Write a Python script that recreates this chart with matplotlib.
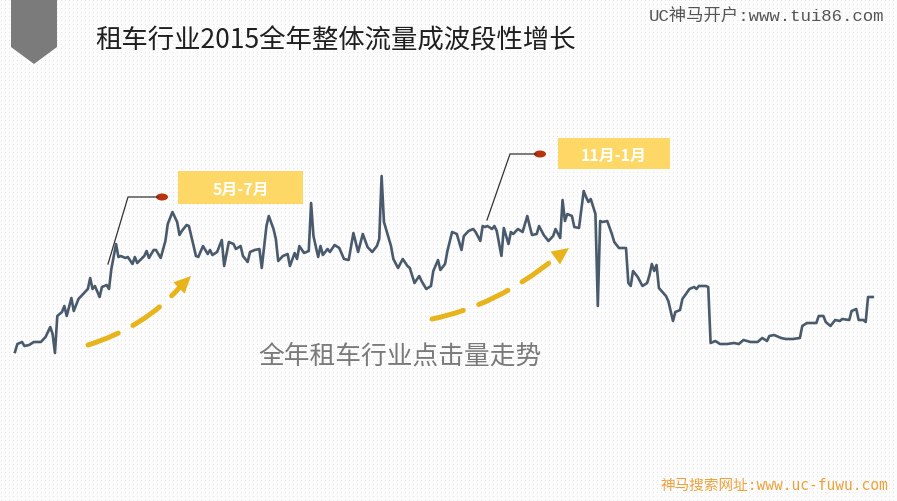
import numpy as np
import matplotlib
matplotlib.use("Agg")
import matplotlib.pyplot as plt
from matplotlib.patches import Polygon, Rectangle, Ellipse, PathPatch
from matplotlib.path import Path

plt.rcParams['font.family'] = ['Noto Sans CJK SC', 'DejaVu Sans']

# Daily click index for the car-rental industry
days = [0, 1, 3, 4, 6, 8, 10, 11, 13, 15, 16, 17, 18, 20, 21, 22, 24, 25, 27, 29,
        31, 32, 33, 34, 36, 37, 39, 40, 41, 43, 44, 45, 47, 48, 50, 51, 52, 55, 56, 57,
        59, 60, 62, 64, 65, 67, 69, 70, 71, 73, 74, 77, 78, 80, 82, 83, 84, 86, 88, 89,
        91, 93, 94, 96, 97, 99, 100, 102, 104, 105, 107, 108, 110, 111, 112, 114, 116, 117, 119, 120,
        121, 123, 125, 126, 127, 129, 130, 131, 133, 134, 136, 138, 140, 142, 144, 146, 148, 150, 152, 154,
        155, 156, 157, 160, 161, 163, 165, 167, 168, 170, 172, 173, 175, 177, 178, 180, 181, 183, 184, 186,
        188, 189, 190, 191, 193, 195, 196, 198, 199, 200, 201, 203, 204, 205, 207, 208, 210, 211, 212, 214,
        216, 218, 219, 220, 222, 223, 225, 227, 229, 230, 232, 233, 234, 235, 237, 238, 240, 242, 243, 244,
        245, 247, 248, 249, 250, 252, 254, 255, 257, 260, 261, 262, 263, 265, 267, 269, 270, 271, 272, 273,
        274, 277, 278, 280, 281, 283, 284, 287, 289, 290, 291, 294, 295, 296, 298, 300, 303, 306, 308, 310,
        313, 316, 318, 320, 321, 323, 326, 328, 331, 334, 335, 337, 341, 342, 344, 345, 347, 349, 351, 352,
        355, 356, 358, 359, 361, 362, 363, 365]
clicks = [47, 55, 57, 53, 54, 57, 57, 57, 62, 72, 65, 46, 83, 87, 93, 83, 101, 88, 100, 105,
          110, 121, 110, 113, 102, 112, 114, 110, 130, 155, 142, 143, 141, 142, 135, 142, 136, 143, 148, 141,
          149, 149, 141, 158, 175, 187, 177, 164, 168, 174, 173, 143, 142, 153, 145, 149, 144, 147, 159, 133,
          157, 155, 150, 153, 143, 137, 147, 149, 150, 131, 173, 183, 170, 160, 138, 143, 145, 133, 146, 140,
          153, 146, 148, 196, 163, 142, 153, 144, 150, 147, 154, 151, 140, 139, 166, 147, 165, 152, 147, 153,
          160, 223, 177, 153, 140, 131, 140, 133, 131, 116, 123, 118, 110, 113, 128, 139, 129, 135, 148, 167,
          165, 157, 149, 163, 168, 170, 167, 158, 173, 172, 173, 170, 173, 168, 143, 171, 155, 167, 165, 170,
          167, 183, 173, 164, 165, 173, 164, 158, 163, 170, 161, 199, 178, 185, 183, 172, 171, 208, 202, 197,
          200, 185, 93, 178, 177, 178, 165, 157, 151, 151, 116, 113, 128, 122, 113, 116, 124, 135, 128, 134,
          111, 103, 98, 78, 87, 89, 100, 110, 112, 110, 113, 113, 112, 56, 58, 55, 55, 56, 55, 59,
          57, 57, 61, 58, 63, 64, 61, 60, 60, 61, 73, 76, 76, 83, 83, 77, 73, 79, 78, 80,
          79, 88, 90, 79, 79, 77, 102, 102]

title = "租车行业2015全年整体流量成波段性增长"
series_label = "全年租车行业点击量走势"
period_labels = ["5月-7月", "11月-1月"]
watermark_top = "UC神马开户:www.tui86.com"
watermark_bottom = "神马搜索网址:www.uc-fuwu.com"

W, H = 897, 502
fig = plt.figure(figsize=(W / 100, H / 100), dpi=100)

# background layer in pixel coordinates
bg = fig.add_axes([0, 0, 1, 1])
bg.set_xlim(0, W)
bg.set_ylim(H, 0)
bg.axis('off')

tex = np.full((H, W), 0.985)
tex[1::4, 1::4] = 0.90
bg.imshow(tex, cmap='gray', vmin=0, vmax=1, extent=(0, W, H, 0), aspect='auto', interpolation='nearest')

# grey banner at the top-left
bg.add_patch(Polygon([(11, 0), (57, 0), (57, 48), (34, 65), (11, 48)], closed=True,
                     facecolor='#7b7b7b', edgecolor='none'))

bg.text(95, 41, title, fontsize=19, color='#1f1f1f', va='center', ha='left', fontweight='medium')
bg.text(884, 16, watermark_top, fontsize=12.5, color='#555555', va='center', ha='right',
        family=['Liberation Mono', 'Noto Sans CJK SC'])
bg.text(888, 485, watermark_bottom, fontsize=10.5, color='#eea23a', va='center', ha='right',
        family=['DejaVu Sans Mono', 'Noto Sans CJK SC'])

# period boxes
boxes = [(178, 172, 125, 33), (558, 139, 112, 31)]
for (bx, by, bw, bh), lab in zip(boxes, period_labels):
    bg.add_patch(Rectangle((bx, by), bw, bh, facecolor='#fdd866', edgecolor='none'))
    bg.text(bx + bw / 2, by + bh / 2 + 1, lab, fontsize=11.5, fontweight='bold', color='white',
            ha='center', va='center')

# callouts with red dots
callouts = [[(108, 265), (128, 198), (158, 198)], [(487, 221), (510, 155), (536, 155)]]
for pts in callouts:
    xs, ys = zip(*pts)
    bg.plot(xs, ys, color='#333333', lw=0.9)
    bg.add_patch(Ellipse((xs[-1] + 4, ys[-1]), 12, 7, facecolor='#b8320e', edgecolor='none'))

# dashed growth arrows: (start, control, shaft end, tip)
arrow_color = '#e8b41c'
for p0, p1, p2, tip in [((88, 346), (145, 328), (180, 288), (191, 277)),
                        ((432, 320), (496, 307), (554, 260), (569, 249))]:
    shaft = Path([p0, p1, p2], [Path.MOVETO, Path.CURVE3, Path.CURVE3])
    bg.add_patch(PathPatch(shaft, fill=False, edgecolor=arrow_color, lw=3.6,
                           linestyle=(0, (6.5, 3.3)), capstyle='round'))
    d = np.subtract(tip, p2).astype(float)
    d /= np.hypot(*d)
    n = np.array([-d[1], d[0]])
    base = np.array(tip) - d * 17
    bg.add_patch(Polygon([tip, base + n * 8, base - n * 8], closed=True,
                         facecolor=arrow_color, edgecolor='none'))

bg.text(400, 357, series_label, fontsize=18.5, color='#7a7a7a', ha='center', va='center')

# data layer
ax = fig.add_axes([0, 0, 1, 1])
ax.patch.set_alpha(0)
ax.plot(days, clicks, color='#4a5a6d', lw=1.9, solid_joinstyle='round')
ax.set_xlim(-15 / 2.35, (W - 15) / 2.35)
ax.set_ylim(400 - H, 400)
ax.axis('off')

fig.savefig('out.png', dpi=100)
